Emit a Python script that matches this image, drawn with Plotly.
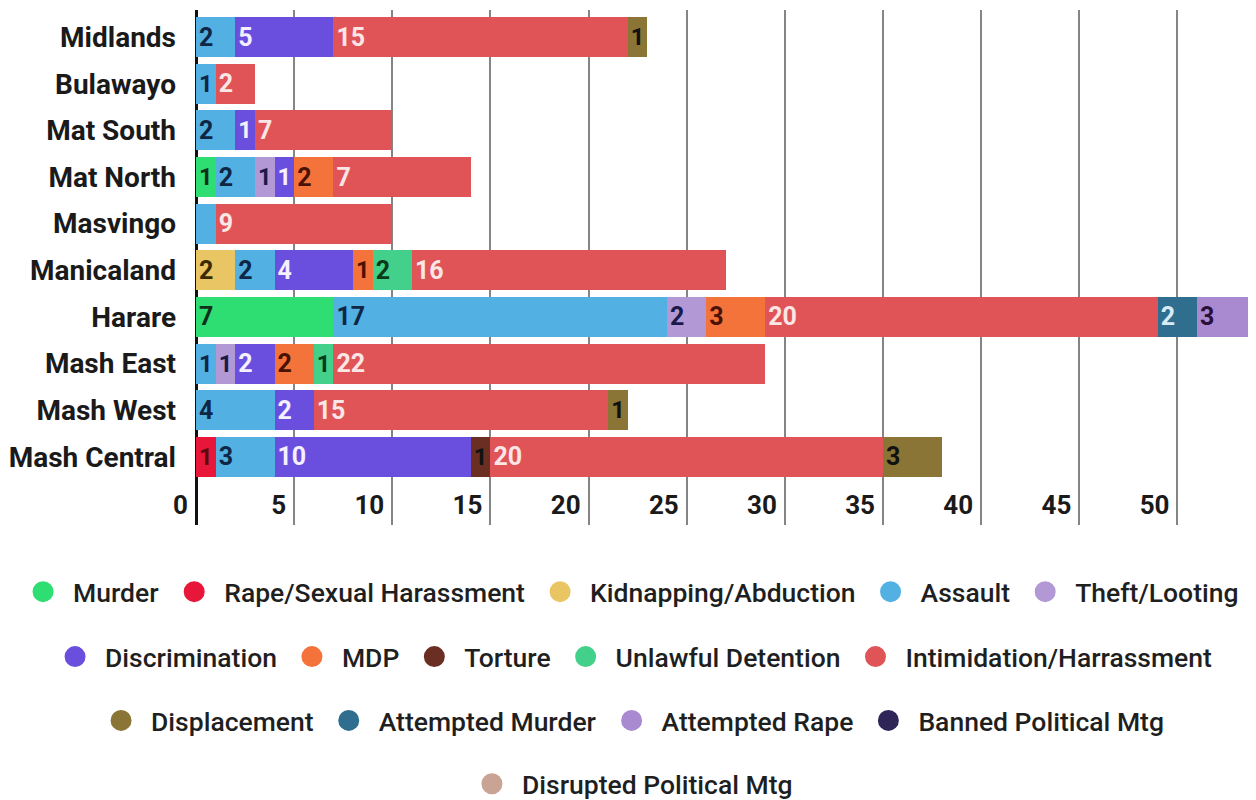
import plotly.graph_objects as go

# --- Data (rows listed top to bottom) ---
regions = ["Midlands", "Bulawayo", "Mat South", "Mat North", "Masvingo",
           "Manicaland", "Harare", "Mash East", "Mash West", "Mash Central"]

murder = [None, None, None, 1, None, None, 7, None, None, None]
rape = [None, None, None, None, None, None, None, None, None, 1]
kidnapping = [None, None, None, None, None, 2, None, None, None, None]
assault = [2, 1, 2, 2, 1, 2, 17, 1, 4, 3]
theft = [None, None, None, 1, None, None, 2, 1, None, None]
discrimination = [5, None, 1, 1, None, 4, None, 2, 2, 10]
mdp = [None, None, None, 2, None, 1, 3, 2, None, None]
torture = [None, None, None, None, None, None, None, None, None, 1]
unlawful = [None, None, None, None, None, 2, None, 1, None, None]
intimidation = [15, 2, 7, 7, 9, 16, 20, 22, 15, 20]
displacement = [1, None, None, None, None, None, None, None, 1, 3]
attempted_murder = [None, None, None, None, None, None, 2, None, None, None]
attempted_rape = [None, None, None, None, None, None, 3, None, None, None]
banned_mtg = [None] * 10
disrupted_mtg = [None] * 10

x_ticks = [0, 5, 10, 15, 20, 25, 30, 35, 40, 45, 50]

# label not printed on the chart
hidden_labels = {("Assault", "Masvingo")}

# name, values, bar colour, label colour, legend row
series = [
    ("Murder", murder, "#2ede72", "#10301c", "legend"),
    ("Rape/Sexual Harassment", rape, "#e8173a", "#5a0a10", "legend"),
    ("Kidnapping/Abduction", kidnapping, "#e9c563", "#3a2a00", "legend"),
    ("Assault", assault, "#52b0e3", "#0f2745", "legend"),
    ("Theft/Looting", theft, "#b398d6", "#1a1a4a", "legend"),
    ("Discrimination", discrimination, "#6a4fdf", "#f4f0ff", "legend2"),
    ("MDP", mdp, "#f4733a", "#4a1205", "legend2"),
    ("Torture", torture, "#6a2e22", "#111111", "legend2"),
    ("Unlawful Detention", unlawful, "#42d08a", "#0a3a1a", "legend2"),
    ("Intimidation/Harrassment", intimidation, "#e05458", "#fbe6e6", "legend2"),
    ("Displacement", displacement, "#8a7436", "#111111", "legend3"),
    ("Attempted Murder", attempted_murder, "#2f6e8f", "#d8ecf5", "legend3"),
    ("Attempted Rape", attempted_rape, "#a98ad0", "#2a0f3a", "legend3"),
    ("Banned Political Mtg", banned_mtg, "#2f2557", "#ffffff", "legend3"),
    ("Disrupted Political Mtg", disrupted_mtg, "#c9a393", "#222222", "legend4"),
]

FONT = "Roboto"

fig = go.Figure()

for name, vals, color, tcolor, leg in series:
    labels = []
    for r, v in zip(regions, vals):
        if v is None or (name, r) in hidden_labels:
            labels.append("")
        else:
            labels.append(str(v))
    fig.add_trace(go.Bar(
        y=regions, x=vals, orientation="h",
        name=name, legendgroup=name, showlegend=False,
        marker=dict(color=color, line=dict(width=0)),
        text=labels, textposition="inside", insidetextanchor="start",
        textfont=dict(family=FONT, size=25, color=tcolor, weight=700),
        hoverinfo="x+y+name",
    ))
    # circle marker for the legend (outline in same colour to make it bigger)
    fig.add_trace(go.Scatter(
        x=[None], y=[None], mode="markers", name=name, legendgroup=name,
        marker=dict(color=color, size=16, symbol="circle",
                    line=dict(color=color, width=10)),
        legend=leg, showlegend=True, hoverinfo="skip",
    ))

# each legend row is its own legend so that rows can sit independently
legend_style = dict(
    orientation="h", xanchor="left", yanchor="middle",
    bgcolor="rgba(0,0,0,0)",
    font=dict(family=FONT, size=26.5, color="#1f1f1f", weight=500),
    itemsizing="trace", itemwidth=50,
)

fig.update_layout(
    width=1248, height=792,
    barmode="stack", bargap=0.14,
    paper_bgcolor="white", plot_bgcolor="white",
    margin=dict(l=188, r=0, t=2, b=275, autoexpand=False),
    font=dict(family=FONT, color="#1f1f1f"),
    legend=dict(legend_style, x=-0.1726, y=-0.130),
    legend2=dict(legend_style, x=-0.1424, y=-0.256),
    legend3=dict(legend_style, x=-0.0990, y=-0.380),
    legend4=dict(legend_style, x=0.2509, y=-0.503),
    xaxis=dict(
        range=[0, 54], tickvals=x_ticks,
        showgrid=True, gridcolor="#858585", gridwidth=1.5,
        zeroline=True, zerolinecolor="#111111", zerolinewidth=3,
        ticklabelposition="inside left", ticklabeloverflow="allow",
        ticklabelshift=-8,
        tickfont=dict(family=FONT, size=26, color="#1a1a1a", weight=700),
        showline=False, fixedrange=True, tickangle=0,
    ),
    yaxis=dict(
        categoryorder="array", categoryarray=regions,
        range=[10.46, -0.58],
        showgrid=False, zeroline=False, showline=False,
        ticks="", ticklabelstandoff=19,
        tickfont=dict(family=FONT, size=28, color="#1a1a1a", weight=700),
        fixedrange=True, automargin=False,
    ),
)

fig.write_html("out.html")
